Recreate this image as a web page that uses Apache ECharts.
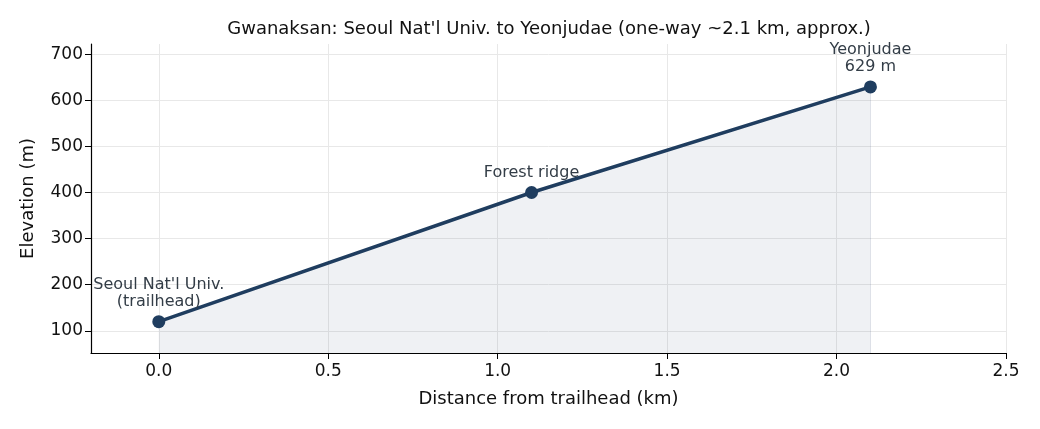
<!DOCTYPE html>
<html>
<head>
<meta charset="utf-8">
<script src="https://cdn.jsdelivr.net/npm/echarts@6/dist/echarts.min.js"></script>
<style>
  html, body { margin: 0; padding: 0; background: #fff; }
  #chart { width: 1040px; height: 429px; }
</style>
</head>
<body>
<div id="chart"></div>
<script>
const distances = [0.0, 1.1, 2.1]
const elevations = [120, 400, 629]
const pointNames = ["Seoul Nat'l Univ.\n(trailhead)", 'Forest ridge', 'Yeonjudae\n629 m']
const xTicks = [0, 0.5, 1.0, 1.5, 2.0, 2.5]
const yTicks = [100, 200, 300, 400, 500, 600, 700]

const lineColor = '#1f3d5f'
const font = 'DejaVu Sans'
const yMin = 52
const last = distances.length - 1

const chart = echarts.init(document.getElementById('chart'))

const option = {
  animation: false,
  title: {
    text: "Gwanaksan: Seoul Nat'l Univ. to Yeonjudae (one-way ~2.1 km, approx.)",
    left: 544,
    textAlign: 'center',
    top: 15,
    textStyle: { fontFamily: font, fontSize: 18, fontWeight: 'normal', color: '#111' }
  },
  grid: { left: 91, right: 34, top: 44, bottom: 76 },
  xAxis: {
    type: 'value',
    min: -0.2,
    max: 2.5,
    name: 'Distance from trailhead (km)',
    nameLocation: 'middle',
    nameGap: 37,
    nameTextStyle: { fontFamily: font, fontSize: 18, color: '#111' },
    axisLine: { show: true, onZero: false, lineStyle: { color: '#000', width: 1.2 } },
    axisTick: { show: true, length: 6, customValues: xTicks, lineStyle: { color: '#000' } },
    axisLabel: {
      customValues: xTicks,
      formatter: v => v.toFixed(1),
      fontFamily: font, fontSize: 17, color: '#111', margin: 10
    },
    splitLine: { show: true, lineStyle: { color: '#e8e8e8', width: 1 } }
  },
  yAxis: {
    type: 'value',
    min: yMin,
    max: 722,
    name: 'Elevation (m)',
    nameLocation: 'middle',
    nameGap: 54,
    nameTextStyle: { fontFamily: font, fontSize: 18, color: '#111' },
    axisLine: { show: true, onZero: false, lineStyle: { color: '#000', width: 1.2 } },
    axisTick: { show: true, length: 6, customValues: yTicks, lineStyle: { color: '#000' } },
    axisLabel: {
      customValues: yTicks,
      fontFamily: font, fontSize: 17, color: '#111', margin: 8
    },
    splitLine: { show: true, lineStyle: { color: '#e8e8e8', width: 1 } }
  },
  series: [{
    type: 'line',
    data: distances.map((d, i) => [d, elevations[i]]),
    symbol: 'circle',
    symbolSize: 13,
    lineStyle: { color: lineColor, width: 3.5 },
    itemStyle: { color: lineColor },
    areaStyle: { origin: 'start', color: 'rgba(31,61,95,0.1)' },
    label: {
      show: true,
      position: 'top',
      distance: 5,
      formatter: p => pointNames[p.dataIndex],
      fontFamily: font,
      fontSize: 16,
      lineHeight: 17,
      color: '#333d47'
    },
    markLine: {
      silent: true,
      symbol: 'none',
      label: { show: false },
      lineStyle: { color: 'rgba(31,61,95,0.12)', width: 1, type: 'solid' },
      data: [[
        { coord: [distances[last], yMin] },
        { coord: [distances[last], elevations[last]] }
      ]]
    }
  }]
}

chart.setOption(option)
</script>
</body>
</html>
